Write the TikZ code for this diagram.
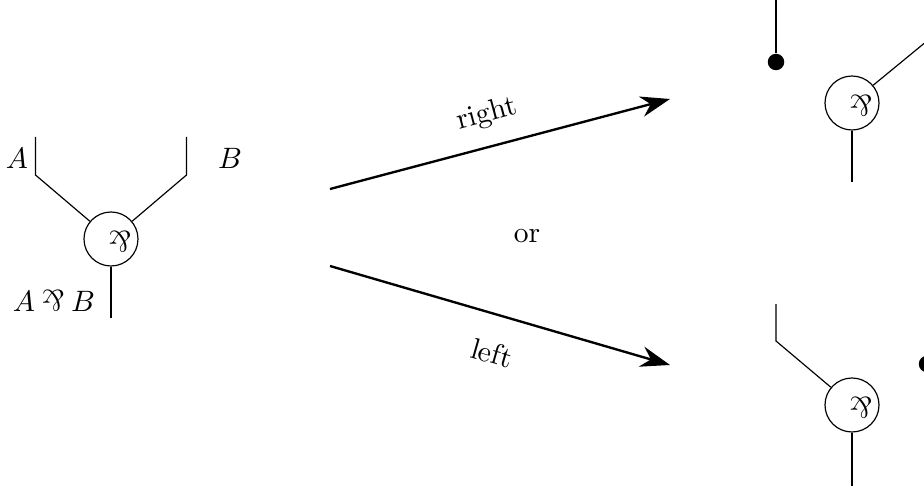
\documentclass[tikz,border=0pt]{standalone}
\usepackage{graphicx}
\usetikzlibrary{arrows.meta}
\newcommand{\myparr}{\rotatebox[origin=c]{180}{\&}}
\tikzset{
  gate/.style={circle,draw,line width=0.4pt,inner sep=0pt,minimum size=54\pxu},
  wire/.style={line width=0.4pt},
  mainarrow/.style={line width=0.8pt,-{Stealth[length=10pt,width=7pt]}},
  dotnode/.style={circle,fill=black,inner sep=0pt,minimum size=16.5\pxu},
  txt/.style={inner sep=0pt},
}
\newcommand{\pxu}{*0.339pt}
\begin{document}
\begin{tikzpicture}[x=0.339pt,y=-0.339pt]
\useasboundingbox (0,0) rectangle (924,486);
% left gate
\node[gate] (g1) at (111,239) {};
\node[txt] (p1) at (120,242) {\myparr};
\coordinate (a1) at (35.5,137);
\coordinate (a2) at (35.5,175);
\coordinate (b1) at (186.5,137);
\coordinate (b2) at (186.5,175);
\coordinate (c1) at (111,318);
\draw[wire] (a1) -- (a2) -- (g1.140);
\draw[wire] (b1) -- (b2) -- (g1.40);
\draw[wire] (g1.south) -- (c1);
\node[txt] (la) at (17,158) {$A$};
\node[txt] (lb) at (230,158) {$B$};
\node[txt] (lab) at (54,301) {$A\mathbin{\myparr}B$};
% arrows
\coordinate (s1) at (330,189);
\coordinate (e1) at (670,99);
\coordinate (s2) at (330,266);
\coordinate (e2) at (670,365);
\draw[mainarrow] (s1) -- (e1);
\draw[mainarrow] (s2) -- (e2);
\node[txt,rotate=15] (tr) at (487,115) {right};
\node[txt,rotate=-16] (tl) at (492,353) {left};
\node[txt] (tor) at (527,236) {or};
% top right
\node[gate] (g2) at (852,103) {};
\node[txt] (p2) at (861,106) {\myparr};
\node[dotnode] (d1) at (776,62) {};
\coordinate (t1) at (776,0);
\coordinate (t2) at (927,41);
\coordinate (t3) at (852,182);
\draw[wire] (t1) -- (d1);
\draw[wire] (t2) -- (g2.40);
\draw[wire] (g2.south) -- (t3);
% bottom right
\node[gate] (g3) at (852,405) {};
\node[txt] (p3) at (861,408) {\myparr};
\node[dotnode] (d2) at (927,364) {};
\coordinate (u1) at (776,304);
\coordinate (u2) at (776,341);
\coordinate (u3) at (852,486);
\draw[wire] (u1) -- (u2) -- (g3.140);
\draw[wire] (g3.south) -- (u3);
\end{tikzpicture}
\end{document}
